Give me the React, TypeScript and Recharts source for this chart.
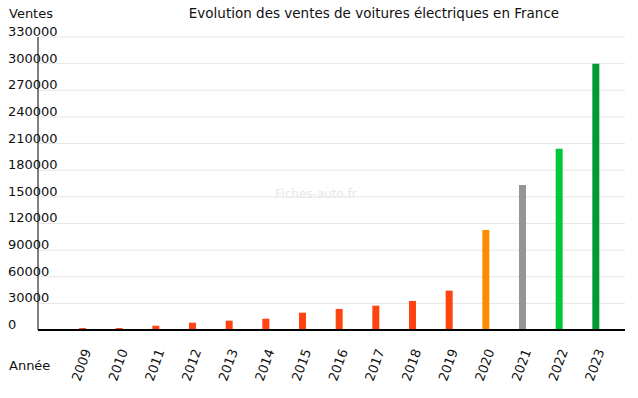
import React from "react";
import { BarChart, Bar, XAxis, YAxis, CartesianGrid, Cell } from "recharts";

const years = ["2009","2010","2011","2012","2013","2014","2015","2016","2017","2018","2019","2020","2021","2022","2023"];
const sales = [2200, 2200, 4800, 8200, 10500, 12700, 19500, 23700, 27400, 32700, 44300, 112700, 163400, 204000, 299800];
const barColors = ["#ff4411","#ff4411","#ff4411","#ff4411","#ff4411","#ff4411","#ff4411","#ff4411","#ff4411","#ff4411","#ff4411","#ff8c00","#959595","#00c83a","#009933"];
const yTicks = [0, 30000, 60000, 90000, 120000, 150000, 180000, 210000, 240000, 270000, 300000, 330000];

const data = years.map((y, i) => ({ year: y, value: sales[i], color: barColors[i] }));

const FONT = "DejaVu Sans, Verdana, sans-serif";

const YTick = (props: any) => {
  const { y, payload } = props;
  return (
    <text x={8} y={y - 1} fontFamily={FONT} fontSize={13} fill="#111" textAnchor="start">
      {payload.value}
    </text>
  );
};

const XTick = (props: any) => {
  const { x, y, payload } = props;
  const ax = x + 9;
  const ay = y + 21;
  return (
    <text x={ax} y={ay} fontFamily={FONT} fontSize={13} fill="#111" textAnchor="end" transform={`rotate(-70 ${ax} ${ay})`}>
      {payload.value}
    </text>
  );
};

export default function App() {
  return (
    <div style={{ position: "absolute", left: 0, top: 0, width: 638, height: 398, background: "#fff" }}>
      <BarChart width={638} height={398} data={data} margin={{ top: 37, right: 13, left: 0, bottom: 8 }}>
        <CartesianGrid vertical={false} stroke="#e6e6e6" />
        <XAxis
          dataKey="year"
          axisLine={{ stroke: "#000", strokeWidth: 2 }}
          tickLine={false}
          tickSize={0}
          tickMargin={0}
          height={60}
          interval={0}
          padding={{ left: 26, right: 11 }}
          tick={<XTick />}
        />
        <YAxis
          width={38}
          domain={[0, 330000]}
          ticks={yTicks}
          axisLine={{ stroke: "#000" }}
          tickLine={false}
          tick={<YTick />}
          interval={0}
        />
        <Bar dataKey="value" barSize={7} isAnimationActive={false}>
          {data.map((d, i) => (
            <Cell key={i} fill={d.color} />
          ))}
        </Bar>
      </BarChart>
      <svg width={638} height={398} style={{ position: "absolute", left: 0, top: 0, pointerEvents: "none" }}>
        <text x={9} y={18} fontFamily={FONT} fontSize={13} fill="#111">Ventes</text>
        <text x={374} y={18} fontFamily={FONT} fontSize={13.5} fill="#111" textAnchor="middle">
          Evolution des ventes de voitures électriques en France
        </text>
        <text x={9} y={370} fontFamily={FONT} fontSize={13} fill="#111">Année</text>
        <text x={316} y={198} fontFamily={FONT} fontSize={12} fill="#e8e8e8" textAnchor="middle">Fiches-auto.fr</text>
      </svg>
    </div>
  );
}
